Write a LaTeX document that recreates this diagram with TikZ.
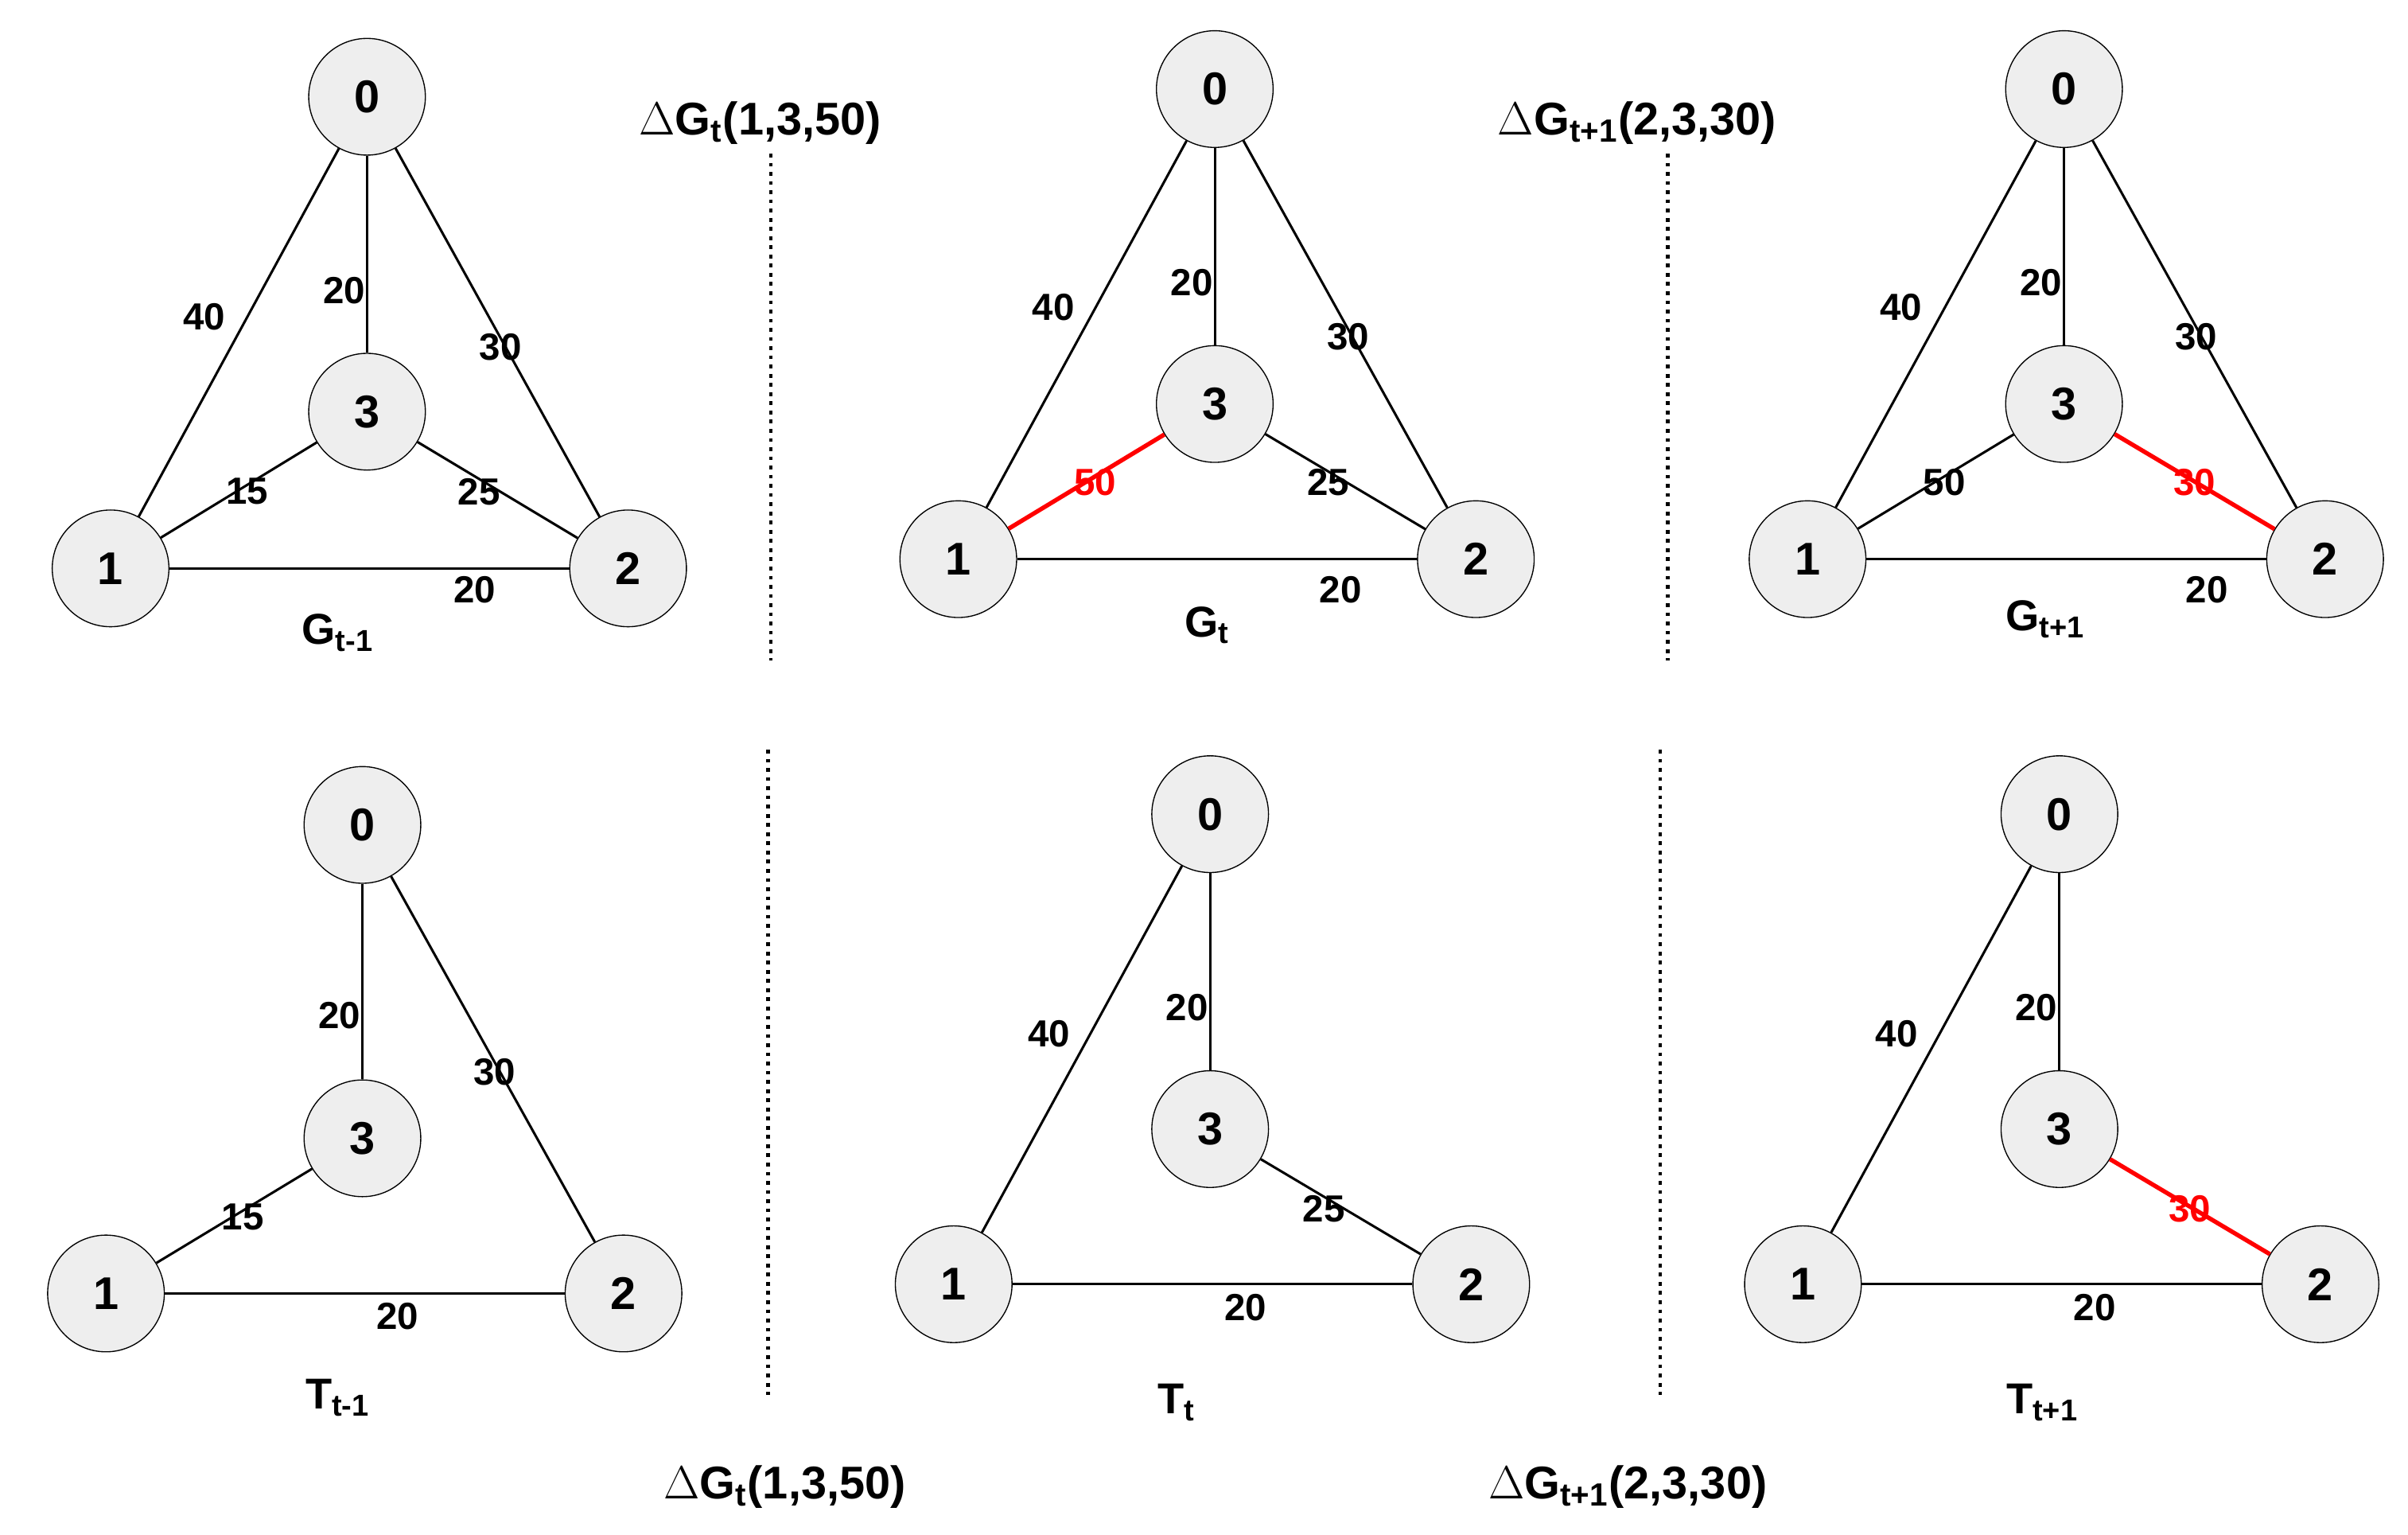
\documentclass[tikz,border=0pt]{standalone}
\usepackage{fontspec}
\setmainfont{Liberation Sans}
\usetikzlibrary{positioning}
\definecolor{vfill}{HTML}{EEEEEE}
\tikzset{
    vertex/.style={draw, circle, fill=vfill, minimum size=1.52cm, inner sep=0pt, font=\fontsize{17}{17}\selectfont\bfseries},
    edge/.style={line width=0.9pt},
    changed/.style={line width=1.6pt, red},
    wlabel/.style={font=\fontsize{14}{14}\selectfont\bfseries, inner sep=1pt},
    title/.style={font=\fontsize{16}{16}\selectfont\bfseries},
    delta/.style={font=\fontsize{17}{17}\selectfont\bfseries},
    sep/.style={line width=1.4pt, dotted}
}
\begin{document}
\begin{tikzpicture}[x=0.02cm, y=-0.02cm]
\useasboundingbox (0,0) rectangle (1568,999);
% graph G_{t-1}
\node[vertex] (a0) at (239,63) {0};
\node[vertex] (a3) at (239,268) {3};
\node[vertex] (a1) at (72,370) {1};
\node[vertex] (a2) at (409,370) {2};
\draw[edge] (a0) -- (a1); \draw[edge] (a0) -- (a3); \draw[edge] (a0) -- (a2);
\draw[edge] (a3) -- (a1); \draw[edge] (a3) -- (a2); \draw[edge] (a1) -- (a2);
\node[wlabel] (a01) at (133,206) {40};
\node[wlabel] (a03) at (224,189) {20};
\node[wlabel] (a02) at (326,226) {30};
\node[wlabel] (a31) at (161,320) {15};
\node[wlabel] (a32) at (312,320) {25};
\node[wlabel] (a12) at (309,384) {20};
\node[title] (ga) at (220,412) {G\textsubscript{t-1}};
% graph G_t
\node[vertex] (b0) at (791,58) {0};
\node[vertex] (b3) at (791,263) {3};
\node[vertex] (b1) at (624,364) {1};
\node[vertex] (b2) at (961,364) {2};
\draw[edge] (b0) -- (b1); \draw[edge] (b0) -- (b3); \draw[edge] (b0) -- (b2);
\draw[changed] (b3) -- (b1); \draw[edge] (b3) -- (b2); \draw[edge] (b1) -- (b2);
\node[wlabel] (b01) at (686,200) {40};
\node[wlabel] (b03) at (776,184) {20};
\node[wlabel] (b02) at (878,219) {30};
\node[wlabel, red] (b31) at (713,314) {50};
\node[wlabel] (b32) at (865,314) {25};
\node[wlabel] (b12) at (873,384) {20};
\node[title] (gb) at (786,407) {G\textsubscript{t}};
% graph G_{t+1}
\node[vertex] (c0) at (1344,58) {0};
\node[vertex] (c3) at (1344,263) {3};
\node[vertex] (c1) at (1177,364) {1};
\node[vertex] (c2) at (1514,364) {2};
\draw[edge] (c0) -- (c1); \draw[edge] (c0) -- (c3); \draw[edge] (c0) -- (c2);
\draw[edge] (c3) -- (c1); \draw[changed] (c3) -- (c2); \draw[edge] (c1) -- (c2);
\node[wlabel] (c01) at (1238,200) {40};
\node[wlabel] (c03) at (1329,184) {20};
\node[wlabel] (c02) at (1430,219) {30};
\node[wlabel] (c31) at (1266,314) {50};
\node[wlabel, red] (c32) at (1429,314) {30};
\node[wlabel] (c12) at (1437,384) {20};
\node[title] (gc) at (1332,403) {G\textsubscript{t+1}};
% tree T_{t-1}
\node[vertex] (d0) at (236,537) {0};
\node[vertex] (d3) at (236,741) {3};
\node[vertex] (d1) at (69,842) {1};
\node[vertex] (d2) at (406,842) {2};
\draw[edge] (d0) -- (d3); \draw[edge] (d0) -- (d2);
\draw[edge] (d3) -- (d1); \draw[edge] (d1) -- (d2);
\node[wlabel] (d03) at (221,661) {20};
\node[wlabel] (d02) at (322,698) {30};
\node[wlabel] (d31) at (158,792) {15};
\node[wlabel] (d12) at (259,857) {20};
\node[title] (td) at (220,910) {T\textsubscript{t-1}};
% tree T_t
\node[vertex] (e0) at (788,530) {0};
\node[vertex] (e3) at (788,735) {3};
\node[vertex] (e1) at (621,836) {1};
\node[vertex] (e2) at (958,836) {2};
\draw[edge] (e0) -- (e1); \draw[edge] (e0) -- (e3);
\draw[edge] (e3) -- (e2); \draw[edge] (e1) -- (e2);
\node[wlabel] (e01) at (683,673) {40};
\node[wlabel] (e03) at (773,656) {20};
\node[wlabel] (e32) at (862,787) {25};
\node[wlabel] (e12) at (811,851) {20};
\node[title] (te) at (766,913) {T\textsubscript{t}};
% tree T_{t+1}
\node[vertex] (f0) at (1341,530) {0};
\node[vertex] (f3) at (1341,735) {3};
\node[vertex] (f1) at (1174,836) {1};
\node[vertex] (f2) at (1511,836) {2};
\draw[edge] (f0) -- (f1); \draw[edge] (f0) -- (f3);
\draw[changed] (f3) -- (f2); \draw[edge] (f1) -- (f2);
\node[wlabel] (f01) at (1235,673) {40};
\node[wlabel] (f03) at (1326,656) {20};
\node[wlabel, red] (f32) at (1426,787) {30};
\node[wlabel] (f12) at (1364,851) {20};
\node[title] (tf) at (1330,913) {T\textsubscript{t+1}};
% separators and updates
\coordinate (s1a) at (502,100); \coordinate (s1b) at (502,430);
\coordinate (s2a) at (500,488); \coordinate (s2b) at (500,908);
\coordinate (s3a) at (1086,100); \coordinate (s3b) at (1086,430);
\coordinate (s4a) at (1081,488); \coordinate (s4b) at (1081,908);
\draw[sep] (s1a) -- (s1b); \draw[sep] (s2a) -- (s2b);
\draw[sep] (s3a) -- (s3b); \draw[sep] (s4a) -- (s4b);
\node[delta] (u1) at (495,80) {$\Delta$G\textsubscript{t}(1,3,50)};
\node[delta] (u2) at (1066,80) {$\Delta$G\textsubscript{t+1}(2,3,30)};
\node[delta] (u3) at (511,968) {$\Delta$G\textsubscript{t}(1,3,50)};
\node[delta] (u4) at (1060,968) {$\Delta$G\textsubscript{t+1}(2,3,30)};
\end{tikzpicture}
\end{document}
